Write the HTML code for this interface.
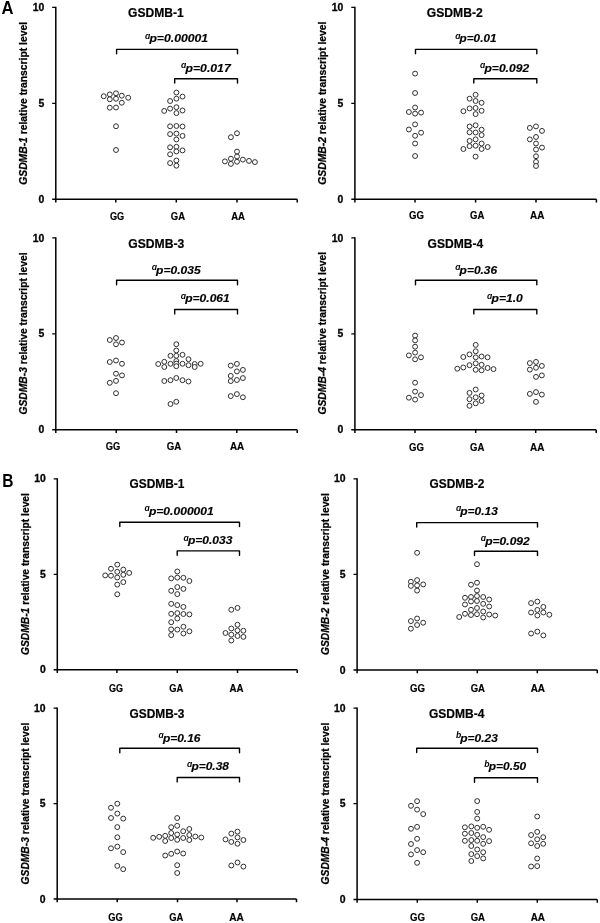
<!DOCTYPE html>
<html><head><meta charset="utf-8"><title>GSDMB transcript levels</title>
<style>
html,body{margin:0;padding:0;background:#fff;}
body{width:600px;height:923px;overflow:hidden;}
svg{display:block;will-change:transform;}
text{font-family:"Liberation Sans", sans-serif;font-weight:bold;fill:#000;}
.tl{font-size:10.4px;text-anchor:end;stroke:#000;stroke-width:0.3px;}
.xl{font-size:10.5px;stroke:#000;stroke-width:0.2px;}
.ti{font-size:12.2px;stroke:#000;stroke-width:0.2px;}
.yl{font-size:10.3px;stroke:#000;stroke-width:0.25px;}
.pv{font-size:11.2px;font-style:italic;stroke:#000;stroke-width:0.15px;}
.sup{font-size:8.6px;font-style:italic;}
.lt{font-size:18.2px;}
.ax{fill:none;stroke:#000;stroke-width:1.5;}
.tk{fill:none;stroke:#000;stroke-width:1.25;}
.br{fill:none;stroke:#000;stroke-width:1.4;stroke-linejoin:round;stroke-linecap:round;}
circle{fill:#fff;stroke:#2e2e2e;stroke-width:1.0;}
</style></head>
<body>
<svg width="600" height="923" viewBox="0 0 600 923">
<text x="1.6" y="14" class="lt" textLength="12" lengthAdjust="spacingAndGlyphs">A</text>
<text x="2.2" y="486.7" class="lt" textLength="11.2" lengthAdjust="spacingAndGlyphs">B</text>
<g id="A1"><path d="M55.8 6.8V202.4M52.2 199.2H297.2" class="ax"/><path d="M52.2 7.4H55.8M52.2 103.3H55.8" class="tk"/><path d="M115.8 199.2V202.4M176.3 199.2V202.4M237 199.2V202.4M297.2 199.2V202.4" class="ax"/><text x="44.2" y="11" class="tl">10</text><text x="44.2" y="106.7" class="tl">5</text><text x="44.2" y="202.8" class="tl">0</text><text x="110" y="220" class="xl" textLength="14.25" lengthAdjust="spacingAndGlyphs">GG</text><text x="170.75" y="220" class="xl" textLength="14.25" lengthAdjust="spacingAndGlyphs">GA</text><text x="231.25" y="220" class="xl" textLength="13.75" lengthAdjust="spacingAndGlyphs">AA</text><text x="128" y="16.7" class="ti" textLength="55.7" lengthAdjust="spacingAndGlyphs">GSDMB-1</text><text transform="translate(27 184.75) rotate(-90)" class="yl" textLength="162.75" lengthAdjust="spacingAndGlyphs"><tspan font-style="italic">GSDMB-1</tspan> relative transcript level</text><path d="M116.6 53.8V49.4H237.5V53.8" class="br"/><text x="145" y="38.7" class="sup">&#x251;</text><text x="149.4" y="42.4" class="pv" textLength="58.7" lengthAdjust="spacingAndGlyphs">p=0.00001</text><path d="M174.7 83.1V78.7H237.5V83.1" class="br"/><text x="181.1" y="68.4" class="sup">&#x251;</text><text x="185.5" y="72.1" class="pv" textLength="45.2" lengthAdjust="spacingAndGlyphs">p=0.017</text><circle cx="103.75" cy="96.25" r="2.45"/><circle cx="109.8" cy="94.4" r="2.45"/><circle cx="116" cy="93.3" r="2.45"/><circle cx="121.8" cy="95.7" r="2.45"/><circle cx="128.2" cy="97.75" r="2.45"/><circle cx="109.8" cy="99.3" r="2.45"/><circle cx="116" cy="98.75" r="2.45"/><circle cx="121.8" cy="102.75" r="2.45"/><circle cx="109.8" cy="107.7" r="2.45"/><circle cx="116" cy="107.5" r="2.45"/><circle cx="116" cy="126.25" r="2.45"/><circle cx="116" cy="150" r="2.45"/><circle cx="176.4" cy="92.5" r="2.45"/><circle cx="182.5" cy="96.6" r="2.45"/><circle cx="176.4" cy="98.7" r="2.45"/><circle cx="170.1" cy="101" r="2.45"/><circle cx="176.4" cy="107.2" r="2.45"/><circle cx="170.1" cy="108.6" r="2.45"/><circle cx="164.2" cy="110.9" r="2.45"/><circle cx="182.5" cy="110.5" r="2.45"/><circle cx="176.4" cy="113.1" r="2.45"/><circle cx="170.1" cy="126.3" r="2.45"/><circle cx="176.4" cy="126" r="2.45"/><circle cx="182.5" cy="126.5" r="2.45"/><circle cx="170.1" cy="134.1" r="2.45"/><circle cx="176.4" cy="133.6" r="2.45"/><circle cx="182.5" cy="135.9" r="2.45"/><circle cx="176.4" cy="139.5" r="2.45"/><circle cx="170.1" cy="147.3" r="2.45"/><circle cx="176.4" cy="146.8" r="2.45"/><circle cx="182.5" cy="150.4" r="2.45"/><circle cx="176.4" cy="151.5" r="2.45"/><circle cx="170.1" cy="154.3" r="2.45"/><circle cx="176.4" cy="160.5" r="2.45"/><circle cx="170.1" cy="163.1" r="2.45"/><circle cx="176.4" cy="165.7" r="2.45"/><circle cx="230.9" cy="137.2" r="2.45"/><circle cx="237" cy="133.25" r="2.45"/><circle cx="237" cy="151.6" r="2.45"/><circle cx="237" cy="156.5" r="2.45"/><circle cx="237" cy="161.75" r="2.45"/><circle cx="230.9" cy="158.75" r="2.45"/><circle cx="230.9" cy="163.9" r="2.45"/><circle cx="224.9" cy="161.4" r="2.45"/><circle cx="242.9" cy="159.65" r="2.45"/><circle cx="249" cy="160.9" r="2.45"/><circle cx="254.9" cy="162.1" r="2.45"/></g>
<g id="A2"><path d="M354.9 6.8V202.4M351.3 199.2H596.4" class="ax"/><path d="M351.3 7.4H354.9M351.3 103.3H354.9" class="tk"/><path d="M415 199.2V202.4M475.6 199.2V202.4M536 199.2V202.4M596.4 199.2V202.4" class="ax"/><text x="343.3" y="11" class="tl">10</text><text x="343.3" y="106.7" class="tl">5</text><text x="343.3" y="202.8" class="tl">0</text><text x="409" y="219" class="xl" textLength="15" lengthAdjust="spacingAndGlyphs">GG</text><text x="470" y="219" class="xl" textLength="14.3" lengthAdjust="spacingAndGlyphs">GA</text><text x="530" y="219" class="xl" textLength="14.3" lengthAdjust="spacingAndGlyphs">AA</text><text x="426.8" y="16.7" class="ti" textLength="56" lengthAdjust="spacingAndGlyphs">GSDMB-2</text><text transform="translate(325.8 184.75) rotate(-90)" class="yl" textLength="163.25" lengthAdjust="spacingAndGlyphs"><tspan font-style="italic">GSDMB-2</tspan> relative transcript level</text><path d="M415.5 53.8V49.4H536.8V53.8" class="br"/><text x="455.2" y="38.7" class="sup">&#x251;</text><text x="459.6" y="42.4" class="pv" textLength="36.9" lengthAdjust="spacingAndGlyphs">p=0.01</text><path d="M473.8 83.1V78.7H536.8V83.1" class="br"/><text x="480.1" y="68.4" class="sup">&#x251;</text><text x="484.5" y="72.1" class="pv" textLength="44.6" lengthAdjust="spacingAndGlyphs">p=0.092</text><circle cx="415.1" cy="73.6" r="2.45"/><circle cx="415.1" cy="93" r="2.45"/><circle cx="415.1" cy="107.5" r="2.45"/><circle cx="408.9" cy="112" r="2.45"/><circle cx="415.1" cy="113.6" r="2.45"/><circle cx="421.1" cy="112.6" r="2.45"/><circle cx="415.1" cy="124.4" r="2.45"/><circle cx="408.9" cy="129.5" r="2.45"/><circle cx="421.1" cy="132.7" r="2.45"/><circle cx="415.1" cy="135.8" r="2.45"/><circle cx="415.1" cy="143.5" r="2.45"/><circle cx="415.1" cy="156" r="2.45"/><circle cx="475.6" cy="94.8" r="2.45"/><circle cx="469.6" cy="98.7" r="2.45"/><circle cx="475.6" cy="101" r="2.45"/><circle cx="481.6" cy="102.8" r="2.45"/><circle cx="469.6" cy="108.4" r="2.45"/><circle cx="475.6" cy="108" r="2.45"/><circle cx="463.4" cy="111.2" r="2.45"/><circle cx="481.6" cy="110.8" r="2.45"/><circle cx="475.6" cy="114.1" r="2.45"/><circle cx="469.6" cy="126.5" r="2.45"/><circle cx="475.6" cy="125.3" r="2.45"/><circle cx="481.6" cy="129.7" r="2.45"/><circle cx="469.6" cy="132.3" r="2.45"/><circle cx="475.6" cy="132.5" r="2.45"/><circle cx="481.6" cy="135.1" r="2.45"/><circle cx="475.6" cy="139.4" r="2.45"/><circle cx="469.6" cy="140.9" r="2.45"/><circle cx="469.6" cy="146.1" r="2.45"/><circle cx="475.6" cy="145.7" r="2.45"/><circle cx="481.6" cy="143.5" r="2.45"/><circle cx="481.6" cy="149" r="2.45"/><circle cx="463.4" cy="149" r="2.45"/><circle cx="487.7" cy="147" r="2.45"/><circle cx="475.6" cy="156.6" r="2.45"/><circle cx="529.85" cy="127.9" r="2.45"/><circle cx="536" cy="126.4" r="2.45"/><circle cx="542" cy="130.9" r="2.45"/><circle cx="529.85" cy="139.4" r="2.45"/><circle cx="536" cy="137" r="2.45"/><circle cx="536" cy="143.5" r="2.45"/><circle cx="542" cy="147.6" r="2.45"/><circle cx="536" cy="149.5" r="2.45"/><circle cx="536" cy="156.25" r="2.45"/><circle cx="536" cy="161.9" r="2.45"/><circle cx="536" cy="166" r="2.45"/></g>
<g id="A3"><path d="M55.8 237.3V432.9M52.2 429.7H297.2" class="ax"/><path d="M52.2 237.9H55.8M52.2 333.8H55.8" class="tk"/><path d="M116.2 429.7V432.9M176.5 429.7V432.9M236.8 429.7V432.9M297.2 429.7V432.9" class="ax"/><text x="44.2" y="241.5" class="tl">10</text><text x="44.2" y="337.2" class="tl">5</text><text x="44.2" y="433.3" class="tl">0</text><text x="105.8" y="450.4" class="xl" textLength="14.5" lengthAdjust="spacingAndGlyphs">GG</text><text x="166.7" y="450.4" class="xl" textLength="14.5" lengthAdjust="spacingAndGlyphs">GA</text><text x="230" y="450.4" class="xl" textLength="14.25" lengthAdjust="spacingAndGlyphs">AA</text><text x="128.3" y="247.6" class="ti" textLength="56" lengthAdjust="spacingAndGlyphs">GSDMB-3</text><text transform="translate(27 414.5) rotate(-90)" class="yl" textLength="162.1" lengthAdjust="spacingAndGlyphs"><tspan font-style="italic">GSDMB-3</tspan> relative transcript level</text><path d="M116.6 284.7V280.3H237.5V284.7" class="br"/><text x="151.7" y="270" class="sup">&#x251;</text><text x="156.1" y="273.7" class="pv" textLength="44.6" lengthAdjust="spacingAndGlyphs">p=0.035</text><path d="M174.7 313.9V309.5H237.5V313.9" class="br"/><text x="180.8" y="298.7" class="sup">&#x251;</text><text x="185.2" y="302.4" class="pv" textLength="44.6" lengthAdjust="spacingAndGlyphs">p=0.061</text><circle cx="109.8" cy="340" r="2.45"/><circle cx="116" cy="338" r="2.45"/><circle cx="116" cy="344.3" r="2.45"/><circle cx="122" cy="342.5" r="2.45"/><circle cx="109.8" cy="362" r="2.45"/><circle cx="116" cy="360.5" r="2.45"/><circle cx="122" cy="363.75" r="2.45"/><circle cx="116" cy="373.7" r="2.45"/><circle cx="122" cy="375.4" r="2.45"/><circle cx="116" cy="380.9" r="2.45"/><circle cx="109.8" cy="382.8" r="2.45"/><circle cx="116" cy="393.2" r="2.45"/><circle cx="176.3" cy="344.2" r="2.45"/><circle cx="176.3" cy="350.5" r="2.45"/><circle cx="170.5" cy="355.8" r="2.45"/><circle cx="176.3" cy="355.8" r="2.45"/><circle cx="182.5" cy="354.8" r="2.45"/><circle cx="188.5" cy="359.2" r="2.45"/><circle cx="158.2" cy="364" r="2.45"/><circle cx="164.3" cy="361.8" r="2.45"/><circle cx="164.3" cy="367" r="2.45"/><circle cx="170.5" cy="363.8" r="2.45"/><circle cx="176.3" cy="361" r="2.45"/><circle cx="176.3" cy="363.6" r="2.45"/><circle cx="176.3" cy="366.2" r="2.45"/><circle cx="182.5" cy="363.8" r="2.45"/><circle cx="188.5" cy="365.2" r="2.45"/><circle cx="194.7" cy="364" r="2.45"/><circle cx="194.7" cy="367" r="2.45"/><circle cx="200.7" cy="363.8" r="2.45"/><circle cx="164.3" cy="381" r="2.45"/><circle cx="170.5" cy="380.2" r="2.45"/><circle cx="176.3" cy="378" r="2.45"/><circle cx="182.5" cy="380.2" r="2.45"/><circle cx="188.5" cy="381.5" r="2.45"/><circle cx="170.5" cy="404" r="2.45"/><circle cx="176.3" cy="401.8" r="2.45"/><circle cx="230.75" cy="365.6" r="2.45"/><circle cx="236.9" cy="363.9" r="2.45"/><circle cx="236.9" cy="371.4" r="2.45"/><circle cx="242.9" cy="369.9" r="2.45"/><circle cx="230.75" cy="375.9" r="2.45"/><circle cx="230.75" cy="381.1" r="2.45"/><circle cx="236.9" cy="380" r="2.45"/><circle cx="242.9" cy="378.1" r="2.45"/><circle cx="230.75" cy="396.1" r="2.45"/><circle cx="236.9" cy="394.1" r="2.45"/><circle cx="242.9" cy="397.25" r="2.45"/></g>
<g id="A4"><path d="M354.9 237.3V432.9M351.3 429.7H596.2" class="ax"/><path d="M351.3 237.9H354.9M351.3 333.8H354.9" class="tk"/><path d="M415 429.7V432.9M475.7 429.7V432.9M535.7 429.7V432.9M596.2 429.7V432.9" class="ax"/><text x="343.3" y="241.5" class="tl">10</text><text x="343.3" y="337.2" class="tl">5</text><text x="343.3" y="433.3" class="tl">0</text><text x="409" y="450.6" class="xl" textLength="15" lengthAdjust="spacingAndGlyphs">GG</text><text x="470" y="450.6" class="xl" textLength="14.3" lengthAdjust="spacingAndGlyphs">GA</text><text x="530" y="450.6" class="xl" textLength="14.3" lengthAdjust="spacingAndGlyphs">AA</text><text x="427.6" y="247.6" class="ti" textLength="55.6" lengthAdjust="spacingAndGlyphs">GSDMB-4</text><text transform="translate(325.8 414.5) rotate(-90)" class="yl" textLength="162.5" lengthAdjust="spacingAndGlyphs"><tspan font-style="italic">GSDMB-4</tspan> relative transcript level</text><path d="M415.5 284.7V280.3H536.8V284.7" class="br"/><text x="455.2" y="270" class="sup">&#x251;</text><text x="459.6" y="273.7" class="pv" textLength="37.6" lengthAdjust="spacingAndGlyphs">p=0.36</text><path d="M473.8 313.9V309.5H536.8V313.9" class="br"/><text x="487.1" y="298.7" class="sup">&#x251;</text><text x="491.5" y="302.4" class="pv" textLength="31.3" lengthAdjust="spacingAndGlyphs">p=1.0</text><circle cx="415.1" cy="335.6" r="2.45"/><circle cx="415.1" cy="340.4" r="2.45"/><circle cx="415.1" cy="346.7" r="2.45"/><circle cx="415.1" cy="352.6" r="2.45"/><circle cx="408.9" cy="355.4" r="2.45"/><circle cx="421" cy="357.3" r="2.45"/><circle cx="415.1" cy="359.3" r="2.45"/><circle cx="415.1" cy="382.7" r="2.45"/><circle cx="415.1" cy="391.6" r="2.45"/><circle cx="421" cy="395.1" r="2.45"/><circle cx="408.9" cy="397.7" r="2.45"/><circle cx="415.1" cy="399.6" r="2.45"/><circle cx="475.7" cy="344.9" r="2.45"/><circle cx="475.7" cy="351.3" r="2.45"/><circle cx="469.5" cy="354.4" r="2.45"/><circle cx="463.3" cy="357" r="2.45"/><circle cx="475.7" cy="357.3" r="2.45"/><circle cx="481.6" cy="356.5" r="2.45"/><circle cx="487.6" cy="357.3" r="2.45"/><circle cx="457.3" cy="368.7" r="2.45"/><circle cx="463.3" cy="367.5" r="2.45"/><circle cx="469.5" cy="365.2" r="2.45"/><circle cx="475.7" cy="363.4" r="2.45"/><circle cx="475.7" cy="369.8" r="2.45"/><circle cx="481.6" cy="364.8" r="2.45"/><circle cx="481.6" cy="370.3" r="2.45"/><circle cx="487.6" cy="368" r="2.45"/><circle cx="493.5" cy="369.1" r="2.45"/><circle cx="475.7" cy="389.5" r="2.45"/><circle cx="469.5" cy="392.9" r="2.45"/><circle cx="469.5" cy="399.2" r="2.45"/><circle cx="475.7" cy="397.3" r="2.45"/><circle cx="481.6" cy="395.5" r="2.45"/><circle cx="481.6" cy="401" r="2.45"/><circle cx="475.7" cy="403.3" r="2.45"/><circle cx="469.5" cy="405.8" r="2.45"/><circle cx="529.85" cy="363.1" r="2.45"/><circle cx="536" cy="361.9" r="2.45"/><circle cx="541.85" cy="365.9" r="2.45"/><circle cx="529.85" cy="369.6" r="2.45"/><circle cx="536" cy="367.75" r="2.45"/><circle cx="536" cy="376.9" r="2.45"/><circle cx="541.85" cy="375.4" r="2.45"/><circle cx="529.85" cy="393.9" r="2.45"/><circle cx="536" cy="392.1" r="2.45"/><circle cx="541.85" cy="394.6" r="2.45"/><circle cx="536" cy="401.9" r="2.45"/></g>
<g id="B1"><path d="M57.3 478.2V673M53.7 669.8H297.2" class="ax"/><path d="M53.7 478.8H57.3M53.7 574.3H57.3" class="tk"/><path d="M116.9 669.8V673M177.3 669.8V673M237.5 669.8V673M297.2 669.8V673" class="ax"/><text x="45.7" y="482.4" class="tl">10</text><text x="45.7" y="577.7" class="tl">5</text><text x="45.7" y="673.4" class="tl">0</text><text x="108.9" y="691.9" class="xl" textLength="14.1" lengthAdjust="spacingAndGlyphs">GG</text><text x="169.3" y="691.9" class="xl" textLength="14" lengthAdjust="spacingAndGlyphs">GA</text><text x="229.6" y="691.9" class="xl" textLength="14" lengthAdjust="spacingAndGlyphs">AA</text><text x="129.5" y="488.2" class="ti" textLength="54.8" lengthAdjust="spacingAndGlyphs">GSDMB-1</text><text transform="translate(29 655) rotate(-90)" class="yl" textLength="161.9" lengthAdjust="spacingAndGlyphs"><tspan font-style="italic">GSDMB-1</tspan> relative transcript level</text><path d="M119.8 526.6V522.2H239.5V526.6" class="br"/><text x="144.5" y="511.2" class="sup">&#x251;</text><text x="148.9" y="514.9" class="pv" textLength="64.9" lengthAdjust="spacingAndGlyphs">p=0.000001</text><path d="M177.2 555.3V550.9H239.5V555.3" class="br"/><text x="183.5" y="540.6" class="sup">&#x251;</text><text x="187.9" y="544.3" class="pv" textLength="44.6" lengthAdjust="spacingAndGlyphs">p=0.033</text><circle cx="117.25" cy="564.6" r="2.45"/><circle cx="111" cy="568.75" r="2.45"/><circle cx="123.3" cy="569.6" r="2.45"/><circle cx="117.25" cy="571.8" r="2.45"/><circle cx="129.2" cy="572.9" r="2.45"/><circle cx="105.2" cy="575.4" r="2.45"/><circle cx="111" cy="575.7" r="2.45"/><circle cx="117.25" cy="577.5" r="2.45"/><circle cx="123.3" cy="574.8" r="2.45"/><circle cx="123.3" cy="582.1" r="2.45"/><circle cx="117.25" cy="584.6" r="2.45"/><circle cx="117.25" cy="594.3" r="2.45"/><circle cx="177.3" cy="571.5" r="2.45"/><circle cx="171.2" cy="578.4" r="2.45"/><circle cx="177.3" cy="577.6" r="2.45"/><circle cx="183.4" cy="577.8" r="2.45"/><circle cx="189.4" cy="581" r="2.45"/><circle cx="177.3" cy="587.1" r="2.45"/><circle cx="183.4" cy="588.9" r="2.45"/><circle cx="171.2" cy="590.8" r="2.45"/><circle cx="177.3" cy="594.1" r="2.45"/><circle cx="171.2" cy="603.8" r="2.45"/><circle cx="177.3" cy="605.1" r="2.45"/><circle cx="183.4" cy="606.9" r="2.45"/><circle cx="171.2" cy="613.8" r="2.45"/><circle cx="177.3" cy="613.1" r="2.45"/><circle cx="183.4" cy="614" r="2.45"/><circle cx="189.4" cy="614.4" r="2.45"/><circle cx="177.3" cy="618.5" r="2.45"/><circle cx="171.2" cy="622.2" r="2.45"/><circle cx="171.2" cy="629.4" r="2.45"/><circle cx="177.3" cy="629.6" r="2.45"/><circle cx="183.4" cy="626.75" r="2.45"/><circle cx="189.4" cy="631.3" r="2.45"/><circle cx="183.4" cy="633.5" r="2.45"/><circle cx="171.2" cy="635.1" r="2.45"/><circle cx="231.3" cy="609.75" r="2.45"/><circle cx="237.5" cy="607.9" r="2.45"/><circle cx="237.5" cy="624.75" r="2.45"/><circle cx="231.3" cy="628.5" r="2.45"/><circle cx="237.5" cy="630.4" r="2.45"/><circle cx="243.4" cy="630.75" r="2.45"/><circle cx="225.5" cy="633" r="2.45"/><circle cx="231.3" cy="634.65" r="2.45"/><circle cx="237.5" cy="636" r="2.45"/><circle cx="243.4" cy="636.9" r="2.45"/><circle cx="231.3" cy="640.5" r="2.45"/></g>
<g id="B2"><path d="M357.1 478.2V673.2M353.5 670H597.3" class="ax"/><path d="M353.5 478.8H357.1M353.5 574.3H357.1" class="tk"/><path d="M417.3 670V673.2M477.3 670V673.2M537.3 670V673.2M597.3 670V673.2" class="ax"/><text x="345.5" y="482.4" class="tl">10</text><text x="345.5" y="577.7" class="tl">5</text><text x="345.5" y="673.6" class="tl">0</text><text x="410" y="691.7" class="xl" textLength="15" lengthAdjust="spacingAndGlyphs">GG</text><text x="470.7" y="691.7" class="xl" textLength="14.3" lengthAdjust="spacingAndGlyphs">GA</text><text x="530.7" y="691.7" class="xl" textLength="14.3" lengthAdjust="spacingAndGlyphs">AA</text><text x="429.5" y="488.2" class="ti" textLength="54.8" lengthAdjust="spacingAndGlyphs">GSDMB-2</text><text transform="translate(328.7 655) rotate(-90)" class="yl" textLength="161.9" lengthAdjust="spacingAndGlyphs"><tspan font-style="italic">GSDMB-2</tspan> relative transcript level</text><path d="M416.7 527V522.6H537.5V527" class="br"/><text x="455.9" y="511.4" class="sup">&#x251;</text><text x="460.3" y="515.1" class="pv" textLength="37.6" lengthAdjust="spacingAndGlyphs">p=0.13</text><path d="M474.5 555.6V551.2H537.5V555.6" class="br"/><text x="480.8" y="541" class="sup">&#x251;</text><text x="485.2" y="544.7" class="pv" textLength="44.6" lengthAdjust="spacingAndGlyphs">p=0.092</text><circle cx="417.1" cy="552.8" r="2.45"/><circle cx="410.9" cy="581.8" r="2.45"/><circle cx="417.1" cy="580.1" r="2.45"/><circle cx="410.9" cy="585.9" r="2.45"/><circle cx="417.1" cy="585.4" r="2.45"/><circle cx="423.2" cy="584.4" r="2.45"/><circle cx="417.1" cy="590.6" r="2.45"/><circle cx="417.1" cy="618.5" r="2.45"/><circle cx="410.9" cy="621.1" r="2.45"/><circle cx="423.2" cy="622.7" r="2.45"/><circle cx="417.1" cy="625" r="2.45"/><circle cx="410.9" cy="628.7" r="2.45"/><circle cx="477" cy="564.2" r="2.45"/><circle cx="471" cy="584.7" r="2.45"/><circle cx="477" cy="582.7" r="2.45"/><circle cx="477" cy="590.5" r="2.45"/><circle cx="465" cy="597.8" r="2.45"/><circle cx="471" cy="597" r="2.45"/><circle cx="477" cy="596" r="2.45"/><circle cx="483.2" cy="597" r="2.45"/><circle cx="489.2" cy="599.5" r="2.45"/><circle cx="471" cy="601.5" r="2.45"/><circle cx="477" cy="601" r="2.45"/><circle cx="465" cy="604.5" r="2.45"/><circle cx="483.2" cy="603.8" r="2.45"/><circle cx="489.2" cy="606.5" r="2.45"/><circle cx="471" cy="609.8" r="2.45"/><circle cx="477" cy="608" r="2.45"/><circle cx="465" cy="613.8" r="2.45"/><circle cx="471" cy="615" r="2.45"/><circle cx="477" cy="614.2" r="2.45"/><circle cx="483.2" cy="611.5" r="2.45"/><circle cx="483.2" cy="617.5" r="2.45"/><circle cx="489.2" cy="614.5" r="2.45"/><circle cx="459.2" cy="617" r="2.45"/><circle cx="495.2" cy="615.5" r="2.45"/><circle cx="531.1" cy="603.1" r="2.45"/><circle cx="537.35" cy="601.6" r="2.45"/><circle cx="543.35" cy="606.9" r="2.45"/><circle cx="531.1" cy="612.5" r="2.45"/><circle cx="537.35" cy="609.9" r="2.45"/><circle cx="537.35" cy="615.5" r="2.45"/><circle cx="543.35" cy="612.5" r="2.45"/><circle cx="549.35" cy="614.75" r="2.45"/><circle cx="531.1" cy="633.5" r="2.45"/><circle cx="537.35" cy="631.6" r="2.45"/><circle cx="543.35" cy="635.4" r="2.45"/></g>
<g id="B3"><path d="M57.2 707.4V902.2M53.6 899H296.5" class="ax"/><path d="M53.6 708H57.2M53.6 803.6H57.2" class="tk"/><path d="M117.2 899V902.2M177.5 899V902.2M237 899V902.2M296.5 899V902.2" class="ax"/><text x="45.6" y="711.6" class="tl">10</text><text x="45.6" y="807" class="tl">5</text><text x="45.6" y="902.6" class="tl">0</text><text x="108.3" y="921.3" class="xl" textLength="14.5" lengthAdjust="spacingAndGlyphs">GG</text><text x="169.2" y="921.3" class="xl" textLength="14.1" lengthAdjust="spacingAndGlyphs">GA</text><text x="229.2" y="921.3" class="xl" textLength="14.55" lengthAdjust="spacingAndGlyphs">AA</text><text x="129.5" y="717.5" class="ti" textLength="54.8" lengthAdjust="spacingAndGlyphs">GSDMB-3</text><text transform="translate(29 884.4) rotate(-90)" class="yl" textLength="161.7" lengthAdjust="spacingAndGlyphs"><tspan font-style="italic">GSDMB-3</tspan> relative transcript level</text><path d="M119.8 752.7V748.3H239.5V752.7" class="br"/><text x="158.5" y="738" class="sup">&#x251;</text><text x="162.9" y="741.7" class="pv" textLength="37.6" lengthAdjust="spacingAndGlyphs">p=0.16</text><path d="M177.2 781.9V777.5H239.5V781.9" class="br"/><text x="187" y="766.7" class="sup">&#x251;</text><text x="191.4" y="770.4" class="pv" textLength="37.6" lengthAdjust="spacingAndGlyphs">p=0.38</text><circle cx="117.3" cy="803.7" r="2.45"/><circle cx="111" cy="807.8" r="2.45"/><circle cx="117.3" cy="813.6" r="2.45"/><circle cx="111" cy="818" r="2.45"/><circle cx="123.2" cy="818.6" r="2.45"/><circle cx="117.3" cy="827.1" r="2.45"/><circle cx="117.3" cy="837.3" r="2.45"/><circle cx="111" cy="848.3" r="2.45"/><circle cx="117.3" cy="846.6" r="2.45"/><circle cx="123.2" cy="852.1" r="2.45"/><circle cx="117.3" cy="865.9" r="2.45"/><circle cx="123.2" cy="869.2" r="2.45"/><circle cx="177.2" cy="818" r="2.45"/><circle cx="171.2" cy="827.2" r="2.45"/><circle cx="177.2" cy="825.8" r="2.45"/><circle cx="183.2" cy="831.2" r="2.45"/><circle cx="189.3" cy="829" r="2.45"/><circle cx="153.2" cy="837.8" r="2.45"/><circle cx="159.2" cy="836.8" r="2.45"/><circle cx="165.2" cy="835.8" r="2.45"/><circle cx="165.2" cy="841" r="2.45"/><circle cx="171.2" cy="833" r="2.45"/><circle cx="171.2" cy="838" r="2.45"/><circle cx="177.2" cy="834.5" r="2.45"/><circle cx="177.2" cy="839.8" r="2.45"/><circle cx="183.2" cy="838" r="2.45"/><circle cx="189.3" cy="835" r="2.45"/><circle cx="189.3" cy="840" r="2.45"/><circle cx="195.3" cy="836.5" r="2.45"/><circle cx="201.3" cy="837.5" r="2.45"/><circle cx="165.2" cy="855.5" r="2.45"/><circle cx="171.2" cy="853.8" r="2.45"/><circle cx="177.2" cy="851.5" r="2.45"/><circle cx="183.2" cy="853.5" r="2.45"/><circle cx="177.2" cy="865.2" r="2.45"/><circle cx="177.2" cy="873" r="2.45"/><circle cx="231.3" cy="833.6" r="2.45"/><circle cx="237.5" cy="831.6" r="2.45"/><circle cx="237.5" cy="837.4" r="2.45"/><circle cx="225.5" cy="839.4" r="2.45"/><circle cx="231.3" cy="841.9" r="2.45"/><circle cx="237.5" cy="843.75" r="2.45"/><circle cx="243.4" cy="840" r="2.45"/><circle cx="231.3" cy="865.5" r="2.45"/><circle cx="237.5" cy="862.5" r="2.45"/><circle cx="243.4" cy="866.6" r="2.45"/></g>
<g id="B4"><path d="M357.1 707.4V902.7M353.5 899.5H597.3" class="ax"/><path d="M353.5 708H357.1M353.5 803.6H357.1" class="tk"/><path d="M417.3 899.5V902.7M477.3 899.5V902.7M537.3 899.5V902.7M597.3 899.5V902.7" class="ax"/><text x="345.5" y="711.6" class="tl">10</text><text x="345.5" y="807" class="tl">5</text><text x="345.5" y="903.1" class="tl">0</text><text x="410" y="921" class="xl" textLength="15" lengthAdjust="spacingAndGlyphs">GG</text><text x="470.7" y="921" class="xl" textLength="14.3" lengthAdjust="spacingAndGlyphs">GA</text><text x="530.7" y="921" class="xl" textLength="14.3" lengthAdjust="spacingAndGlyphs">AA</text><text x="429" y="717.5" class="ti" textLength="55.3" lengthAdjust="spacingAndGlyphs">GSDMB-4</text><text transform="translate(328.7 884.4) rotate(-90)" class="yl" textLength="161.7" lengthAdjust="spacingAndGlyphs"><tspan font-style="italic">GSDMB-4</tspan> relative transcript level</text><path d="M416.7 752.6V748.2H537.5V752.6" class="br"/><text x="455.9" y="738" class="sup">b</text><text x="460.3" y="741.7" class="pv" textLength="37.6" lengthAdjust="spacingAndGlyphs">p=0.23</text><path d="M474.5 782.2V777.8H537.5V782.2" class="br"/><text x="484.3" y="766.7" class="sup">b</text><text x="488.7" y="770.4" class="pv" textLength="37.6" lengthAdjust="spacingAndGlyphs">p=0.50</text><circle cx="417.1" cy="801.2" r="2.45"/><circle cx="411" cy="805.8" r="2.45"/><circle cx="417.1" cy="809.6" r="2.45"/><circle cx="423.2" cy="814.1" r="2.45"/><circle cx="411" cy="828.8" r="2.45"/><circle cx="417.1" cy="826.9" r="2.45"/><circle cx="417.1" cy="838.8" r="2.45"/><circle cx="411" cy="844" r="2.45"/><circle cx="417.1" cy="850.1" r="2.45"/><circle cx="423.2" cy="852.2" r="2.45"/><circle cx="411" cy="854.4" r="2.45"/><circle cx="417.1" cy="862.8" r="2.45"/><circle cx="477.2" cy="801.1" r="2.45"/><circle cx="477.2" cy="811.9" r="2.45"/><circle cx="477.2" cy="818.6" r="2.45"/><circle cx="464.9" cy="827.3" r="2.45"/><circle cx="471.3" cy="826.4" r="2.45"/><circle cx="477.2" cy="827.8" r="2.45"/><circle cx="483.2" cy="826.8" r="2.45"/><circle cx="489.1" cy="829.8" r="2.45"/><circle cx="464.9" cy="833.7" r="2.45"/><circle cx="471.3" cy="833" r="2.45"/><circle cx="477.2" cy="834.8" r="2.45"/><circle cx="483.2" cy="837.1" r="2.45"/><circle cx="464.9" cy="840.8" r="2.45"/><circle cx="471.3" cy="840.1" r="2.45"/><circle cx="477.2" cy="840.8" r="2.45"/><circle cx="483.2" cy="843.8" r="2.45"/><circle cx="489.1" cy="841.1" r="2.45"/><circle cx="471.3" cy="846" r="2.45"/><circle cx="477.2" cy="849.5" r="2.45"/><circle cx="483.2" cy="852.2" r="2.45"/><circle cx="471.3" cy="854.1" r="2.45"/><circle cx="477.2" cy="856.1" r="2.45"/><circle cx="483.2" cy="858.4" r="2.45"/><circle cx="471.3" cy="861" r="2.45"/><circle cx="537.2" cy="816.5" r="2.45"/><circle cx="537.2" cy="831.9" r="2.45"/><circle cx="531.1" cy="835" r="2.45"/><circle cx="543.2" cy="837.2" r="2.45"/><circle cx="537.2" cy="839.3" r="2.45"/><circle cx="531.1" cy="843.3" r="2.45"/><circle cx="543.2" cy="843.8" r="2.45"/><circle cx="537.2" cy="846" r="2.45"/><circle cx="537.2" cy="858.5" r="2.45"/><circle cx="531.1" cy="866.5" r="2.45"/><circle cx="537.2" cy="866.1" r="2.45"/></g>
</svg>
</body></html>
